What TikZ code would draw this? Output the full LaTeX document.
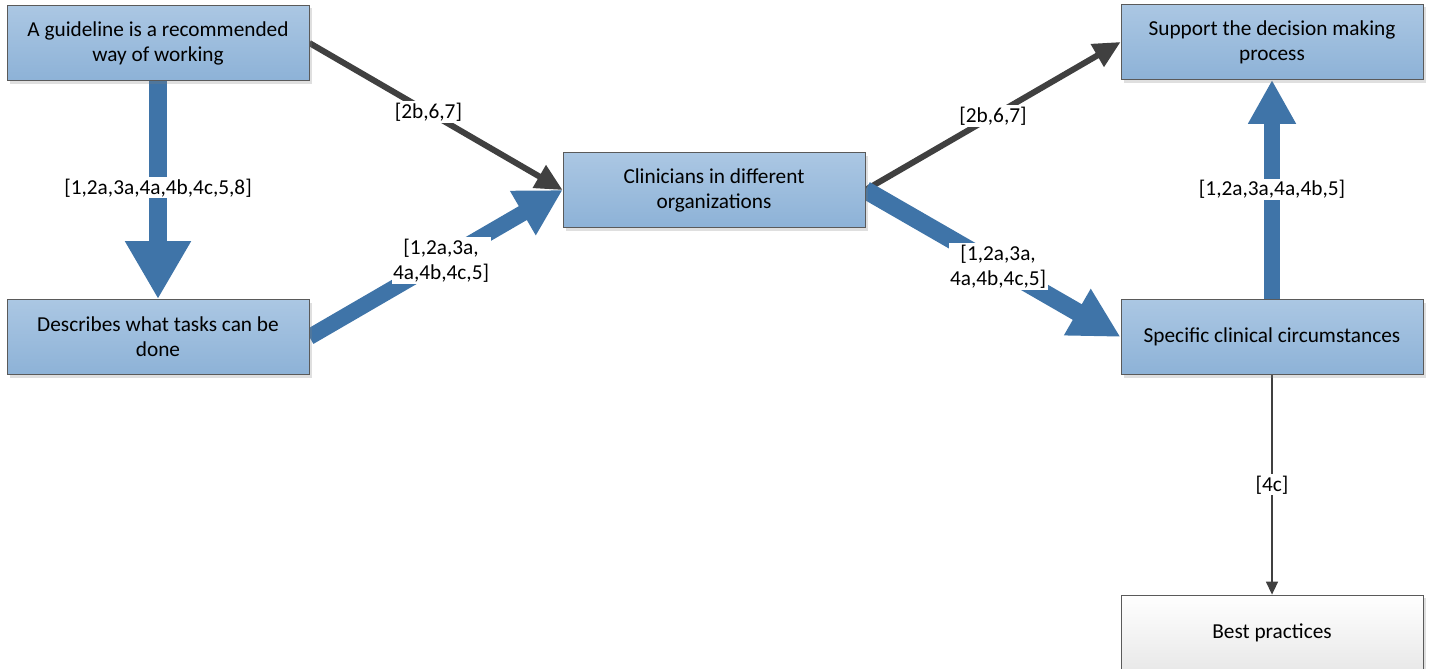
\documentclass[tikz,border=0pt]{standalone}
\usepackage{fontspec}
\setmainfont{Carlito}
\usetikzlibrary{arrows.meta,shadows,positioning}
\pgfdeclarelayer{background}
\pgfsetlayers{background,main}
\definecolor{flowblue}{HTML}{3F74A8}
\definecolor{flowgray}{HTML}{404040}
\definecolor{boxtop}{HTML}{ABC7E3}
\definecolor{boxbottom}{HTML}{8DB2D7}
\definecolor{boxline}{HTML}{5A5A5A}
\tikzset{
  textfont/.style={font=\fontsize{21.3}{25}\selectfont},
  box/.style={textfont, draw=boxline, line width=0.8pt, align=center,
    minimum width=302pt, minimum height=75pt, inner sep=4pt,
    top color=boxtop, bottom color=boxbottom,
    drop shadow={shadow xshift=3pt, shadow yshift=-3pt, opacity=0.25}},
  plainbox/.style={box, top color=white, bottom color=black!9},
  bigflow/.style={draw=flowblue, line width=18pt,
    -{Triangle[length=58pt, width=62pt]}},
  midflow/.style={draw=flowblue, line width=16pt,
    -{Triangle[length=46pt, width=48pt]}},
  grayflow/.style={draw=flowgray, line width=6pt,
    -{Triangle[length=27pt, width=25pt]}},
  thinflow/.style={draw=flowgray, line width=1.5pt,
    -{Triangle[length=13pt, width=12pt]}},
  tag/.style={textfont, fill=white, inner sep=1.5pt, align=center}
}
\begin{document}
\begin{tikzpicture}[x=1pt, y=-1pt]
  \useasboundingbox (0,0) rectangle (1429,669);

  % boxes
  \node[box] (guide) at (158,43) {A guideline is a recommended\\way of working};
  \node[box] (tasks) at (158,337) {Describes what tasks can be\\done};
  \node[box] (clin) at (714,190) {Clinicians in different\\organizations};
  \node[box] (supp) at (1272,42) {Support the decision making\\process};
  \node[box] (spec) at (1272,337) {Specific clinical circumstances};
  \node[plainbox, minimum height=76pt] (best) at (1272,633) {Best practices};

  % connectors
  \begin{pgfonlayer}{background}
    \draw[bigflow] (guide.south) -- (tasks.north)
      node[tag, pos=0.49] {[1,2a,3a,4a,4b,4c,5,8]};
    \draw[grayflow] (guide.east) -- (clin.west)
      node[tag, pos=0.47] {[2b,6,7]};
    \draw[midflow] (tasks.east) -- (clin.west)
      node[tag, pos=0.52] {[1,2a,3a,\\4a,4b,4c,5]};
    \draw[grayflow] (clin.east) -- (supp.west)
      node[tag, pos=0.5] {[2b,6,7]};
    \draw[draw=flowblue, line width=18pt, -{Triangle[length=50pt, width=50pt]}]
      (clin.east) -- (spec.west)
      node[tag, pos=0.52] {[1,2a,3a,\\4a,4b,4c,5]};
    \draw[draw=flowblue, line width=16pt, -{Triangle[length=44pt, width=45pt]}]
      (spec.north) -- (supp.south)
      node[tag, pos=0.5] {[1,2a,3a,4a,4b,5]};
    \draw[thinflow] (spec.south) -- (best.north)
      node[tag, pos=0.5] {[4c]};
  \end{pgfonlayer}
\end{tikzpicture}
\end{document}
